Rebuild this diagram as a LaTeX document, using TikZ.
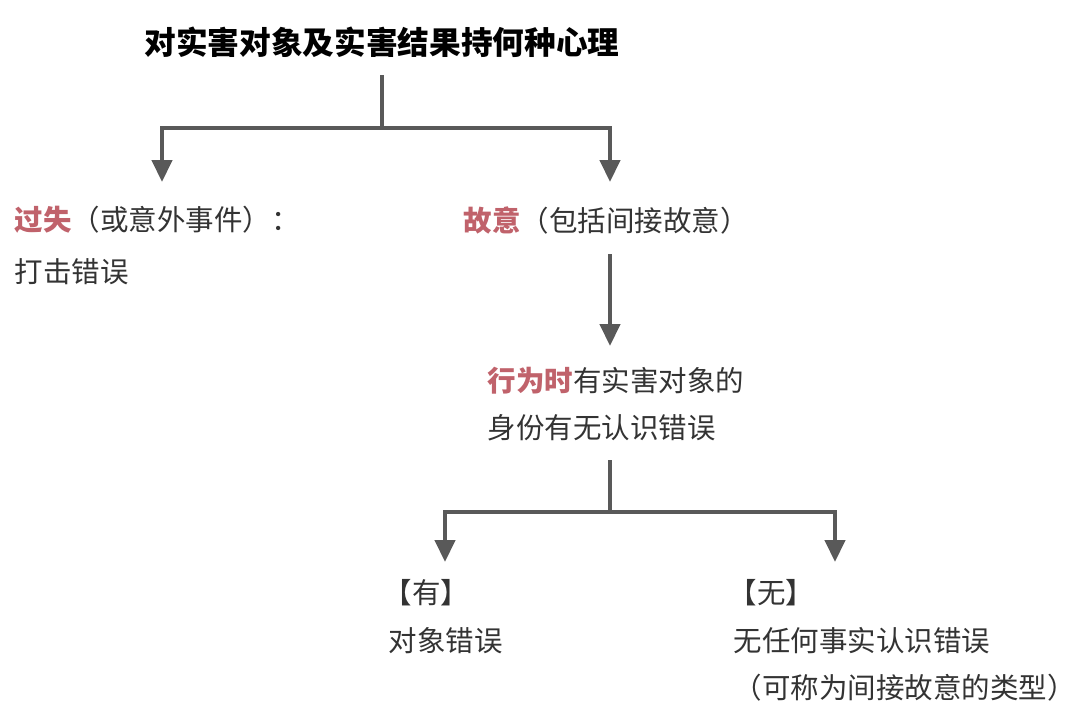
\documentclass[tikz,border=0pt]{standalone}
\usepackage{fontspec}
\setmainfont{Noto Sans CJK SC}
\usetikzlibrary{arrows.meta}
\definecolor{ln}{HTML}{595959}
\definecolor{rd}{HTML}{C0626B}
\definecolor{tx}{HTML}{333333}
\tikzset{
  conn/.style={draw=ln,line width=1.2pt},
  arr/.style={conn,-{Triangle[width=0.2cm,length=0.22cm]}},
  lbl/.style={anchor=west,inner sep=0pt,text=tx,font=\fontsize{8.1pt}{10pt}\selectfont},
  ttl/.style={inner sep=0pt,text=black,font=\fontsize{9pt}{11pt}\selectfont\bfseries}
}
\newcommand{\hl}[1]{{\bfseries\color{rd}#1}}
\begin{document}
\begin{tikzpicture}[x=0.01cm,y=-0.01cm]
\useasboundingbox (0,0) rectangle (1078,723);
\node[ttl] (t) at (382,42) {对实害对象及实害结果持何种心理};
\node[lbl] (g1) at (14,220) {\hl{过失}（或意外事件）：};
\node[lbl] (g2) at (14,272) {打击错误};
\node[lbl] (k) at (463,220) {\hl{故意}（包括间接故意）};
\node[lbl] (x1) at (487,381) {\hl{行为时}有实害对象的};
\node[lbl] (x2) at (487,428) {身份有无认识错误};
\node[lbl] (y1) at (383,593) {【有】};
\node[lbl] (y2) at (388,641) {对象错误};
\node[lbl] (n1) at (728,593) {【无】};
\node[lbl] (n2) at (733,641) {无任何事实认识错误};
\node[lbl] (n3) at (733,688) {（可称为间接故意的类型）};
\coordinate (a) at (382,75);
\coordinate (b) at (382,128);
\coordinate (ga) at (162,182);
\coordinate (ka) at (610,182);
\draw[conn] (a) -- (b);
\draw[arr] (b) -| (ga);
\draw[arr] (b) -| (ka);
\coordinate (c1) at (610,254);
\coordinate (c2) at (610,346);
\draw[arr] (c1) -- (c2);
\coordinate (d1) at (610,460);
\coordinate (d2) at (610,512);
\coordinate (ya) at (445,562);
\coordinate (na) at (835,562);
\draw[conn] (d1) -- (d2);
\draw[arr] (d2) -| (ya);
\draw[arr] (d2) -| (na);
\end{tikzpicture}
\end{document}
